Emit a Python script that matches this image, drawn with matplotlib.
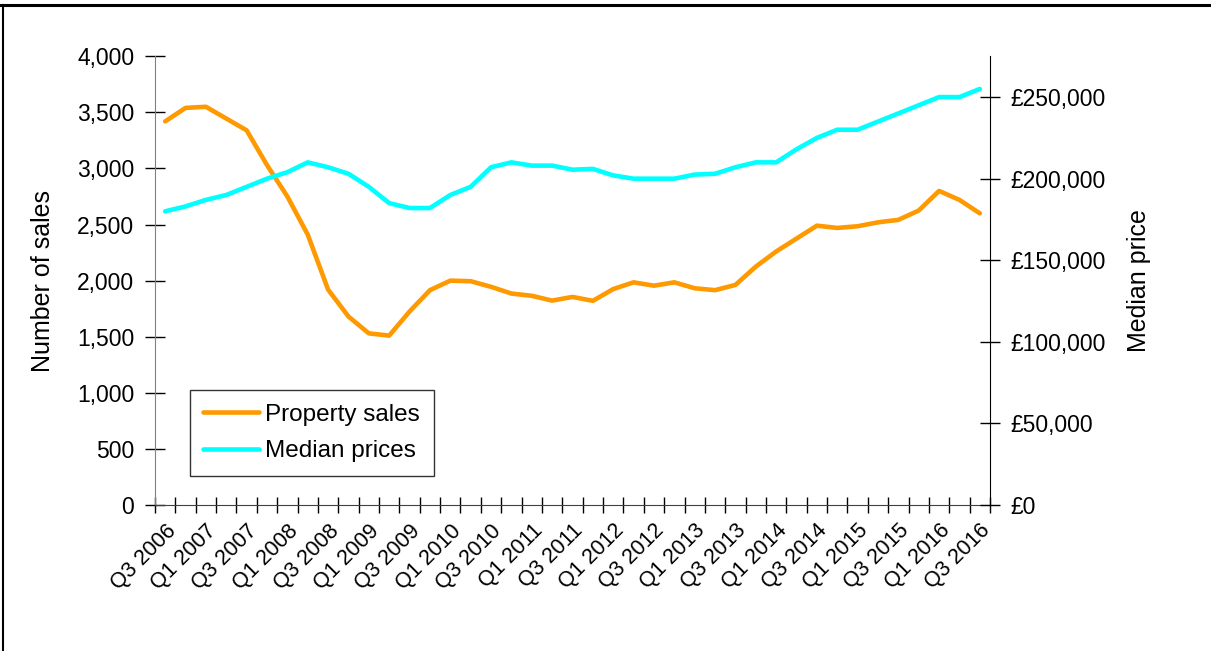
import numpy as np
import matplotlib
matplotlib.use('Agg')
import matplotlib.pyplot as plt
from matplotlib.lines import Line2D
from matplotlib.ticker import FuncFormatter, FixedLocator

plt.rcParams['font.family'] = ['Liberation Sans', 'DejaVu Sans']

# quarters Q3 2006 .. Q3 2016
quarters = []
for yr in range(2006, 2017):
    for q in (1, 2, 3, 4):
        if (yr == 2006 and q < 3) or (yr == 2016 and q > 3):
            continue
        quarters.append('Q%d %d' % (q, yr))

sales = [3420, 3540, 3550, 3445, 3340, 3030, 2750, 2410, 1920, 1680,
         1530, 1510, 1725, 1915, 2000, 1995, 1945, 1885, 1865, 1822,
         1855, 1820, 1925, 1985, 1955, 1985, 1932, 1915, 1962, 2125,
         2260, 2375, 2490, 2470, 2485, 2520, 2542, 2625, 2800, 2720,
         2600]

prices = [180000, 183000, 187000, 190000, 195000, 200000, 204000, 210000, 207000, 203000,
          195000, 185000, 182000, 182000, 190000, 195000, 207000, 210000, 208000, 208000,
          205500, 206000, 202000, 200000, 200000, 200000, 202500, 203000, 207000, 210000,
          210000, 218000, 225000, 230000, 230000, 235000, 240000, 245000, 250000, 250000,
          255000]

TICKFS = 16.5
XFS = 15.5
LABFS = 18
LEGFS = 17.5
x = np.arange(len(quarters))

fig = plt.figure(figsize=(12.11, 6.51), dpi=100)
ax = fig.add_axes([0.128, 0.2243, 0.6895, 0.6892])
ax2 = ax.twinx()

l1, = ax.plot(x, sales, color='#FF9900', lw=3.3, solid_capstyle='round',
              solid_joinstyle='round', label='Property sales')
l2, = ax2.plot(x, prices, color='#00FFFF', lw=3.3, solid_capstyle='round',
               solid_joinstyle='round', label='Median prices')

ax.set_xlim(-0.5, len(quarters) - 0.5)
ax.set_ylim(0, 4000)
ax2.set_ylim(0, 275000)

ax.set_yticks(np.arange(0, 4001, 500))
ax.yaxis.set_major_formatter(FuncFormatter(lambda v, p: '{:,.0f}'.format(v)))
ax2.set_yticks(np.arange(0, 250001, 50000))
ax2.yaxis.set_major_formatter(FuncFormatter(lambda v, p: '\u00a3{:,.0f}'.format(v)))

# x ticks: marks on category boundaries, labels every other quarter
ax.xaxis.set_major_locator(FixedLocator(np.arange(-0.5, len(quarters), 1.0)))
ax.set_xticklabels([])
ax.xaxis.set_minor_locator(FixedLocator(x[::2]))
ax.set_xticklabels(quarters[::2], minor=True, rotation=45, ha='right',
                   rotation_mode='anchor', fontsize=XFS)
ax.tick_params(axis='x', which='minor', length=0, pad=11)
ax.tick_params(axis='x', which='major', direction='inout', length=12, width=1)
ax.tick_params(axis='y', direction='inout', length=14, width=1, labelsize=TICKFS, pad=8)
ax2.tick_params(axis='y', direction='inout', length=14, width=1, labelsize=TICKFS, pad=8)

for s in ('top', 'right'):
    ax.spines[s].set_visible(False)
ax2.spines['top'].set_visible(False)
ax2.spines['left'].set_visible(False)
ax2.spines['bottom'].set_visible(False)
ax.spines['left'].set_color('#808080')
ax.spines['bottom'].set_color('#404040')

ax.set_ylabel('Number of sales', fontsize=LABFS, labelpad=16)
ax2.set_ylabel('Median price', fontsize=LABFS, labelpad=15)

leg = ax.legend(handles=[l1, l2], loc='lower left', bbox_to_anchor=(0.042, 0.065),
                fontsize=LEGFS, frameon=True, fancybox=False, edgecolor='black',
                handlelength=2.3, borderpad=0.55, labelspacing=0.6, handletextpad=0.25,
                borderaxespad=0)
leg.get_frame().set_linewidth(1)

# figure border (top and left edges)
fig.add_artist(Line2D([0, 1], [0.9916, 0.9916], color='black', lw=2.2, transform=fig.transFigure))
fig.add_artist(Line2D([0.0028, 0.0028], [0, 0.9916], color='black', lw=1.5, transform=fig.transFigure))

fig.savefig('out.png', dpi=100)
